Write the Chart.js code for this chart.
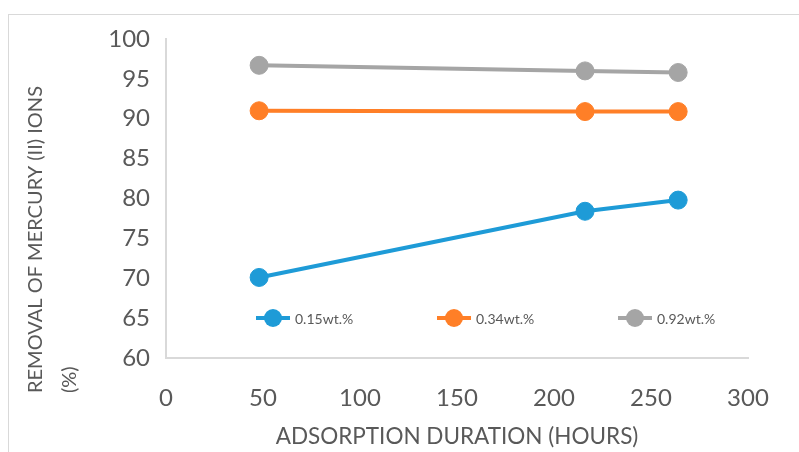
<!DOCTYPE html>
<html>
<head>
<meta charset="utf-8">
<script src="https://cdn.jsdelivr.net/npm/chart.js@4/dist/chart.umd.min.js"></script>
<style>
  html, body { margin: 0; padding: 0; background: #ffffff; }
  #wrap { position: relative; width: 799px; height: 452px; overflow: hidden; }
  #frame { position: absolute; left: 8px; top: 14px; right: -2px; bottom: -2px;
           border-left: 1px solid #d9d9d9; border-top: 1px solid #d9d9d9; }
  canvas { position: absolute; left: 0; top: 0; }
</style>
</head>
<body>
<div id="wrap">
  <div id="frame"></div>
  <canvas id="c" width="799" height="452"></canvas>
</div>
<script>
// Adsorption duration (hours) at which removal was measured
const hours = [48, 216, 264];
// Removal of Hg(II) ions (%) for each loading
const removal015 = [70.1, 78.4, 79.8];
const removal034 = [91.0, 90.9, 90.9];
const removal092 = [96.7, 96.0, 95.8];
const seriesLabels = ['0.15wt.%', '0.34wt.%', '0.92wt.%'];
const yTitleLines = ['REMOVAL OF MERCURY (II) IONS', '(%)'];
const xTitle = 'ADSORPTION DURATION (HOURS)';

const FONT = 'Lato, Carlito, "Open Sans", sans-serif';
const TEXT = '#595959';
const AXIS = '#d9d9d9';
const colors = ['#1e9bd7', '#ff7f27', '#a5a5a5'];

const toPoints = (ys) => hours.map((h, i) => ({ x: h, y: ys[i] }));

const datasets = [removal015, removal034, removal092].map((ys, i) => ({
  label: seriesLabels[i],
  data: toPoints(ys),
  borderColor: colors[i],
  backgroundColor: colors[i],
  pointBackgroundColor: colors[i],
  pointBorderColor: colors[i],
  borderWidth: 4,
  pointRadius: 9,
  pointBorderWidth: 1,
  pointHoverRadius: 9,
  tension: 0
}));

// Legend drawn inside the plot area, one row
const innerLegend = {
  id: 'innerLegend',
  afterDatasetsDraw(chart) {
    const ctx = chart.ctx;
    const a = chart.chartArea;
    const y = 318;
    const start = a.left + 90;
    const step = 181;
    ctx.save();
    ctx.font = '14px ' + FONT;
    ctx.textBaseline = 'middle';
    ctx.textAlign = 'left';
    chart.data.datasets.forEach((ds, i) => {
      const x0 = start + i * step;
      ctx.strokeStyle = ds.borderColor;
      ctx.lineWidth = 4;
      ctx.beginPath();
      ctx.moveTo(x0, y);
      ctx.lineTo(x0 + 34, y);
      ctx.stroke();
      ctx.fillStyle = ds.borderColor;
      ctx.beginPath();
      ctx.arc(x0 + 17, y, 9, 0, Math.PI * 2);
      ctx.fill();
      ctx.fillStyle = TEXT;
      ctx.fillText(ds.label, x0 + 39, y + 1);
    });
    ctx.restore();
  }
};

// Two-line rotated title for the value axis, lines aligned at the bottom
const yAxisTitle = {
  id: 'yAxisTitle',
  afterDraw(chart) {
    const ctx = chart.ctx;
    ctx.save();
    ctx.font = '20px ' + FONT;
    ctx.fillStyle = TEXT;
    ctx.textAlign = 'left';
    ctx.textBaseline = 'middle';
    const xs = [36, 70];
    yTitleLines.forEach((t, i) => {
      ctx.save();
      ctx.translate(xs[i], 393);
      ctx.rotate(-Math.PI / 2);
      ctx.fillText(t, 0, 0);
      ctx.restore();
    });
    ctx.restore();
  }
};

new Chart(document.getElementById('c'), {
  type: 'line',
  data: { datasets },
  options: {
    responsive: false,
    animation: false,
    devicePixelRatio: 1,
    layout: { padding: { left: 0, top: 39, right: 51, bottom: 0 } },
    plugins: {
      legend: { display: false },
      tooltip: { enabled: false },
      title: { display: false }
    },
    scales: {
      x: {
        type: 'linear',
        min: 0,
        max: 300,
        ticks: { stepSize: 50, color: TEXT, font: { family: FONT, size: 24 }, padding: 26, maxRotation: 0 },
        grid: { display: false, drawTicks: false },
        border: { display: true, color: AXIS, width: 2 },
        title: { display: true, text: xTitle, color: TEXT, font: { family: FONT, size: 22.5 }, padding: { top: 0, bottom: 2 } },
        afterFit(s) { s.height = 94; }
      },
      y: {
        min: 60,
        max: 100,
        ticks: { stepSize: 5, color: TEXT, font: { family: FONT, size: 24 }, padding: 16 },
        grid: { display: false, drawTicks: false },
        border: { display: true, color: AXIS, width: 2 },
        afterFit(s) { s.width = 166; }
      }
    }
  },
  plugins: [innerLegend, yAxisTitle]
});
</script>
</body>
</html>
